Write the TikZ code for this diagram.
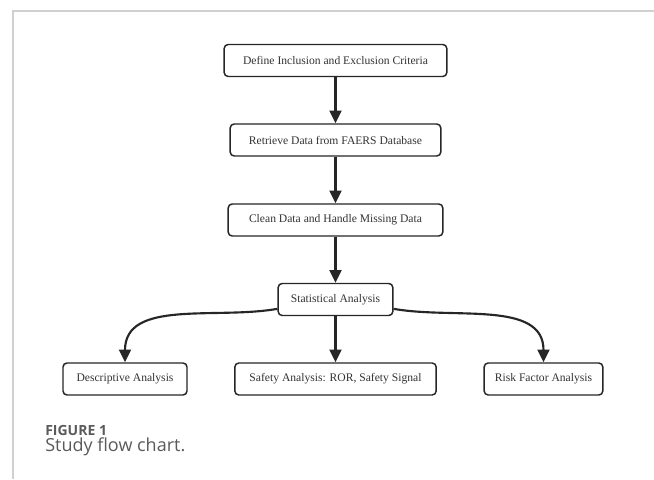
\documentclass[tikz,border=0pt]{standalone}
\usepackage{fontspec}
\setmainfont{Liberation Serif}
\newfontfamily\capfont{Open Sans}
\usetikzlibrary{arrows.meta}
\definecolor{framegray}{HTML}{D0D0D0}
\definecolor{boxtext}{HTML}{333333}
\definecolor{capgray}{HTML}{5A5A5A}
\tikzset{
  flowbox/.style={draw=black!85, line width=1.1pt, rounded corners=3pt, fill=white,
    minimum height=24pt, inner sep=0pt, text=boxtext, font=\fontsize{8.7}{10}\selectfont},
  flowarrow/.style={-{Triangle[length=9.5pt,width=9pt]}, line width=1.6pt, black!85}
}
\begin{document}
\begin{tikzpicture}[x=0.75pt,y=0.75pt]
\useasboundingbox (0,0) rectangle (654,479);
% frame
\draw[framegray, line width=1pt] (13,0) -- (13,468) -- (654,468);
% boxes
\node[flowbox, minimum width=167pt] (define) at (335.5,418.5) {Define Inclusion and Exclusion Criteria};
\node[flowbox, minimum width=158pt] (retrieve) at (335.5,339) {Retrieve Data from FAERS Database};
\node[flowbox, minimum width=161pt] (clean) at (335.5,259) {Clean Data and Handle Missing Data};
\node[flowbox, minimum width=86pt] (stats) at (335.5,179.5) {Statistical Analysis};
\node[flowbox, minimum width=93pt] (descr) at (125,100) {Descriptive Analysis};
\node[flowbox, minimum width=151pt] (safety) at (335.5,100) {Safety Analysis: ROR, Safety Signal};
\node[flowbox, minimum width=89pt] (risk) at (543.5,100) {Risk Factor Analysis};
% connectors
\draw[flowarrow] (define) -- (retrieve);
\draw[flowarrow] (retrieve) -- (clean);
\draw[flowarrow] (clean) -- (stats);
\draw[flowarrow] (stats) -- (safety);
\draw[flowarrow] ([yshift=-7pt]stats.west) to[out=190,in=90] (descr.north);
\draw[flowarrow] ([yshift=-7pt]stats.east) to[out=-10,in=90] (risk.north);
% caption
\node[anchor=base west, inner sep=0pt, text=capgray, font=\capfont\bfseries\fontsize{10.5}{12}\selectfont] (figlabel) at (45,43) {FIGURE 1};
\node[anchor=base west, inner sep=0pt, text=capgray, font=\capfont\fontsize{13.5}{15}\selectfont] (figtext) at (45,27) {Study flow chart.};
\end{tikzpicture}
\end{document}
